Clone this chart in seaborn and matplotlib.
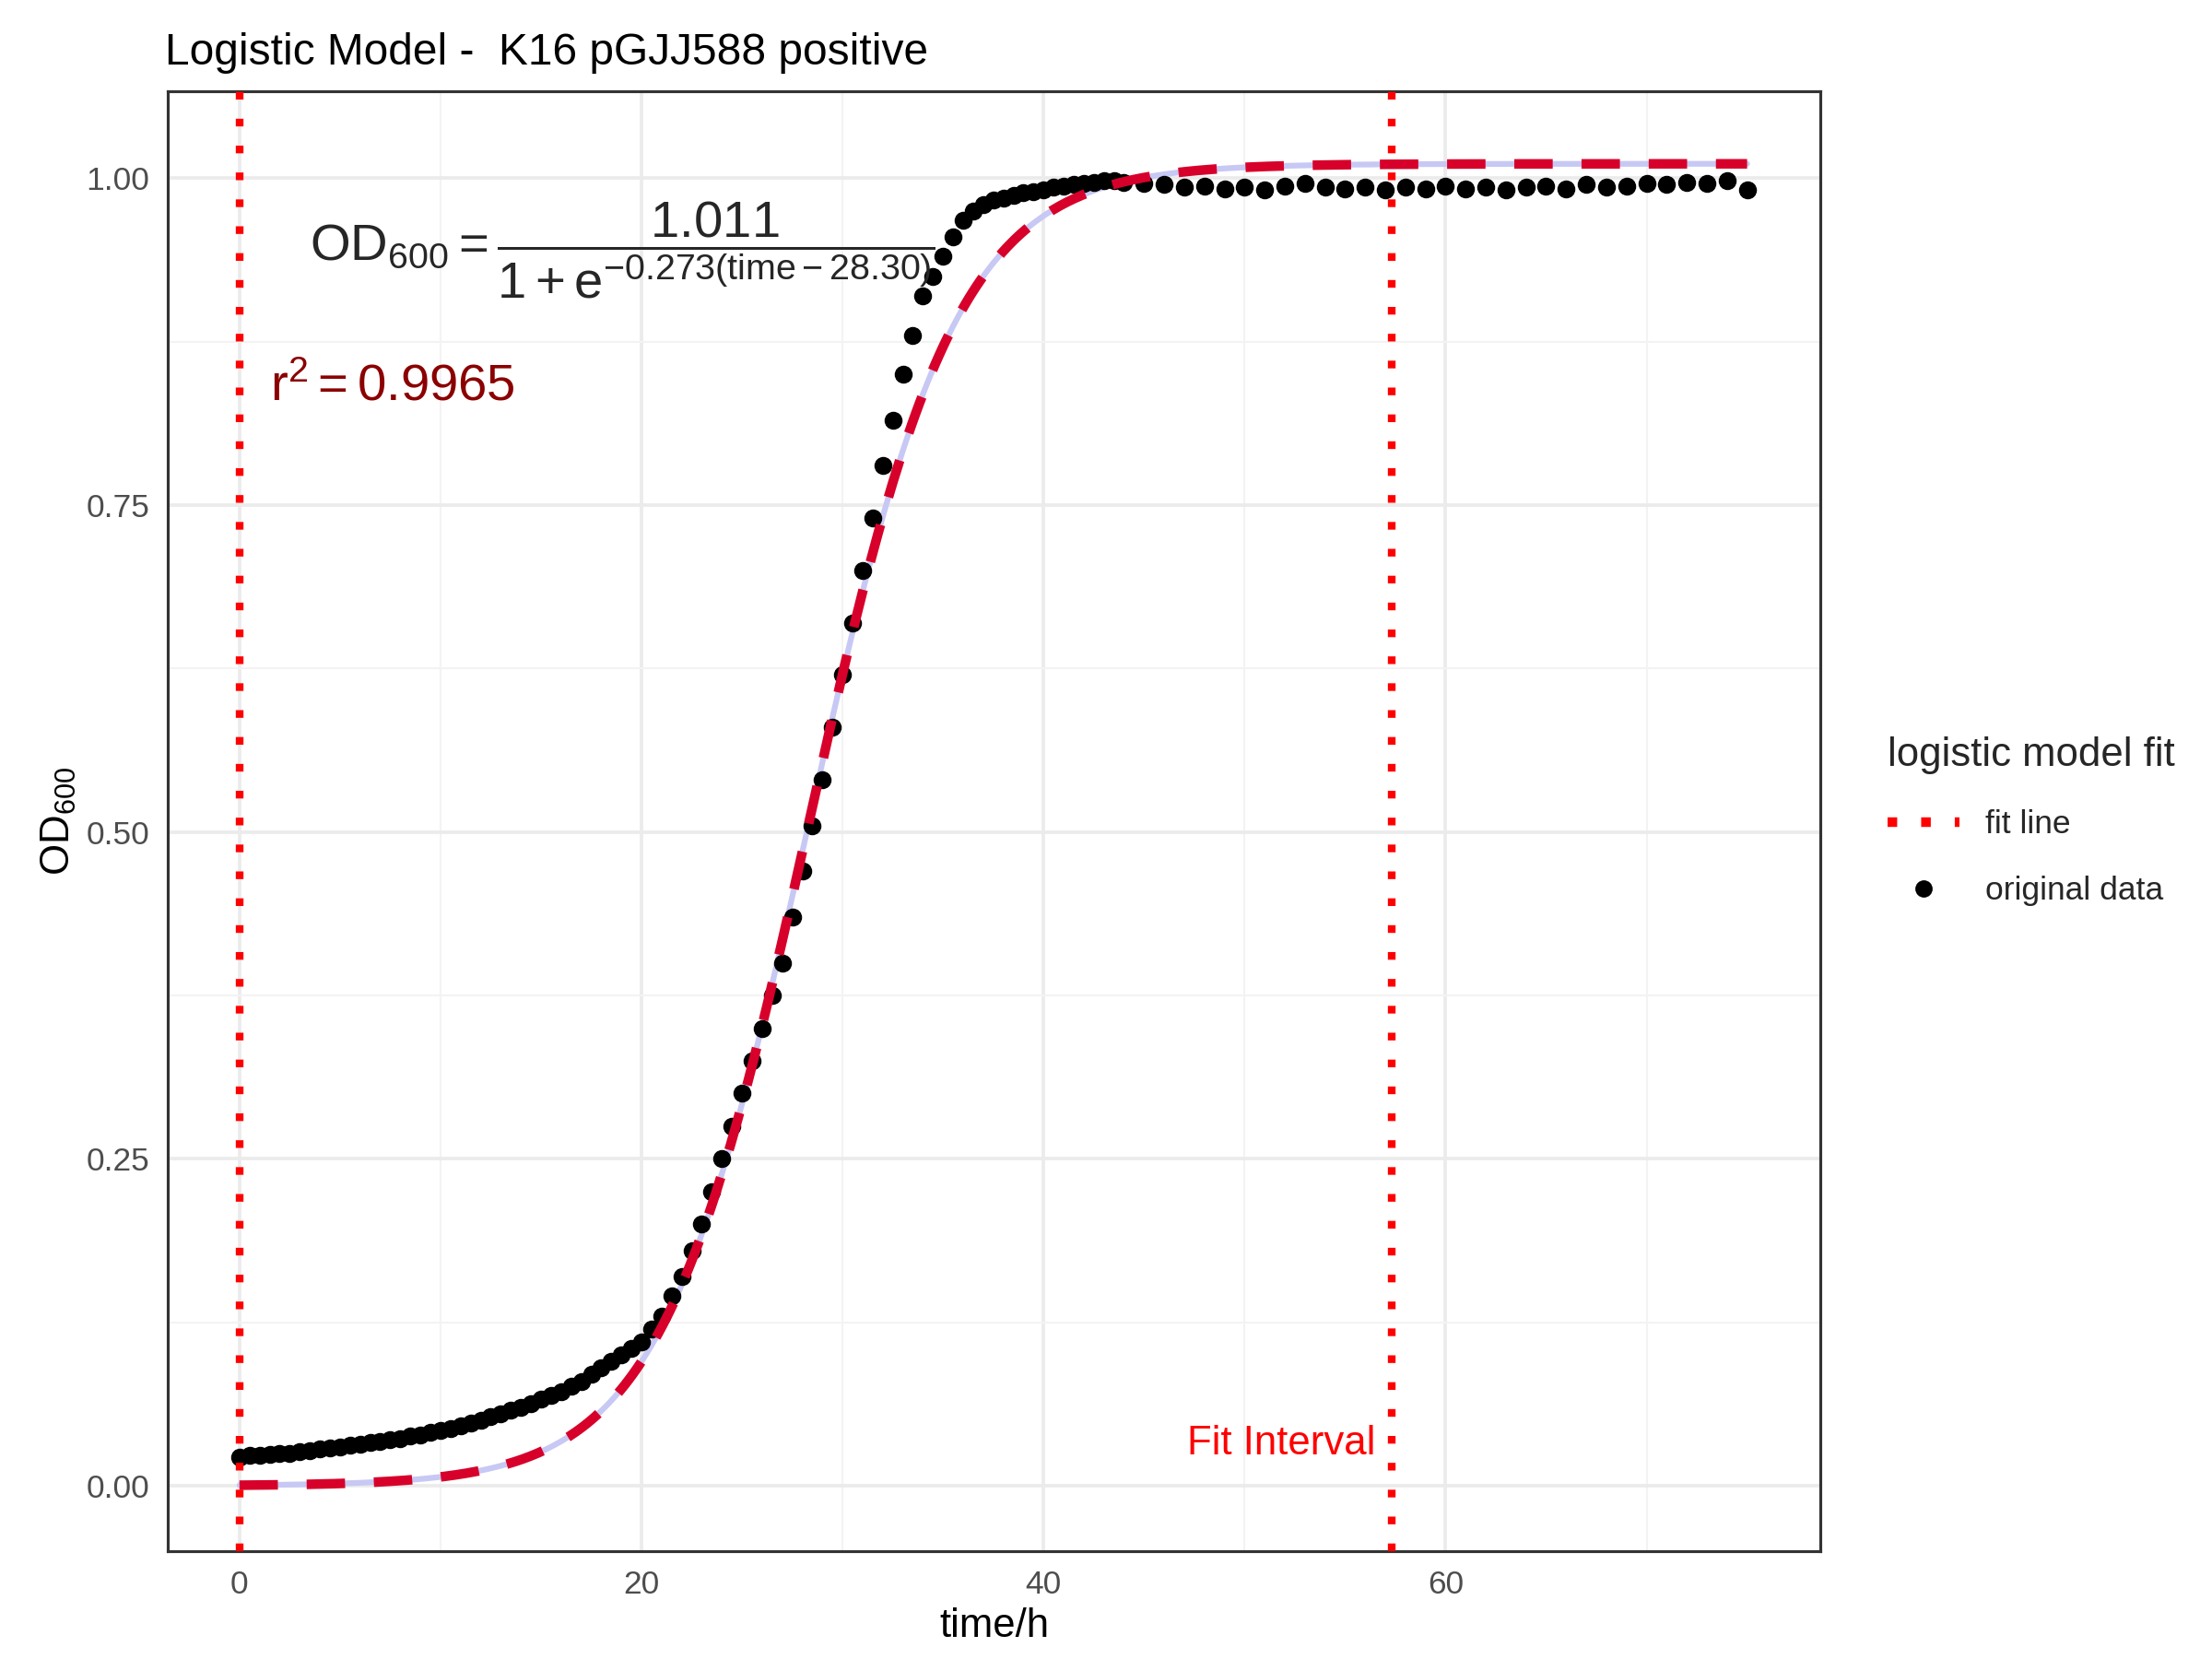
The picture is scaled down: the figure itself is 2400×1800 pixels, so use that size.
import numpy as np
import pandas as pd
import matplotlib.pyplot as plt
import seaborn as sns
from matplotlib.lines import Line2D

# observed OD600 (0-44 h every 0.5 h, then hourly to 75 h)
od_early = [0.022, 0.023, 0.023, 0.024, 0.025, 0.025, 0.026, 0.027, 0.028, 0.029,
            0.030, 0.031, 0.032, 0.033, 0.034, 0.035, 0.036, 0.038, 0.039, 0.041,
            0.042, 0.044, 0.046, 0.048, 0.050, 0.053, 0.055, 0.058, 0.060, 0.063,
            0.066, 0.069, 0.072, 0.076, 0.080, 0.085, 0.090, 0.095, 0.100, 0.105,
            0.110, 0.120, 0.130, 0.145, 0.160, 0.180, 0.200, 0.225, 0.250, 0.275,
            0.300, 0.325, 0.350, 0.375, 0.400, 0.435, 0.470, 0.505, 0.540, 0.580,
            0.620, 0.660, 0.700, 0.740, 0.780, 0.815, 0.850, 0.880, 0.910, 0.925,
            0.940, 0.955, 0.968, 0.975, 0.980, 0.983, 0.985, 0.987, 0.989, 0.990,
            0.991, 0.993, 0.994, 0.995, 0.996, 0.997, 0.998, 0.998, 0.997]
od_late = [0.996, 0.995, 0.993, 0.994, 0.992, 0.993, 0.991, 0.994, 0.996, 0.993,
           0.992, 0.993, 0.991, 0.993, 0.992, 0.994, 0.992, 0.993, 0.991, 0.993,
           0.994, 0.992, 0.995, 0.993, 0.994, 0.996, 0.995, 0.997, 0.996, 0.998, 0.991]
t_early = np.arange(len(od_early)) * 0.5
t_late = 45 + np.arange(len(od_late))

# logistic fit parameters
K, r, t0 = 1.011, 0.273, 28.30
fit_start, fit_end = 0.0, 57.3
r2 = 0.9965

data = pd.DataFrame({"time": np.concatenate([t_early, t_late]),
                     "od": od_early + od_late})
tf = np.linspace(0, 75, 400)
fit = pd.DataFrame({"time": tf, "od": K / (1 + np.exp(-r * (tf - t0)))})

sns.set_style("whitegrid")
plt.rcParams['font.family'] = ['Arial', 'Liberation Sans', 'DejaVu Sans']
plt.rcParams['mathtext.fontset'] = 'custom'
plt.rcParams['mathtext.rm'] = 'Liberation Sans'
plt.rcParams['mathtext.it'] = 'Liberation Sans'
fig = plt.figure(figsize=(16, 12), dpi=150)
ax = fig.add_axes([0.076, 0.065, 0.747, 0.88])

sns.lineplot(data=fit, x="time", y="od", ax=ax, color="#c8c8f5", linewidth=3, zorder=2)
sns.scatterplot(data=data, x="time", y="od", ax=ax, color="black", s=75,
                edgecolor="black", zorder=3)
sns.lineplot(data=fit, x="time", y="od", ax=ax, color="#d7002a", linewidth=5,
             linestyle=(0, (4, 3)), zorder=4)
for xv in (fit_start, fit_end):
    ax.axvline(xv, color="red", linestyle=(0, (1, 2.5)), linewidth=4, zorder=5)

ax.set_xlim(-3.55, 78.65)
ax.set_ylim(-0.05, 1.0665)
ax.set_xticks([0, 20, 40, 60])
ax.set_yticks([0, 0.25, 0.5, 0.75, 1.0])
ax.set_yticklabels(["0.00", "0.25", "0.50", "0.75", "1.00"])
ax.set_xticks([10, 30, 50, 70], minor=True)
ax.set_yticks([0.125, 0.375, 0.625, 0.875], minor=True)
ax.grid(which="major", color="#ebebeb", linewidth=1.8)
ax.grid(which="minor", color="#f3f3f3", linewidth=1)
for s in ax.spines.values():
    s.set_color("#333333")
    s.set_linewidth(1.5)
ax.tick_params(labelsize=17, colors="#4d4d4d", length=6, width=1.5, color="#333333")
ax.set_xlabel("time/h", fontsize=21, color="black")
ax.set_ylabel(r"OD$_{600}$", fontsize=21, color="black")
ax.set_title("Logistic Model -  K16 pGJJ588 positive", fontsize=23, loc="left",
             x=-0.002, pad=14, color="black")

ax.text(3.5, 0.945, r"$\mathrm{OD}_{600} = \dfrac{1.011}{1+\mathrm{e}^{-0.273(\mathrm{time}-28.30)}}$",
        fontsize=27, va="center")
ax.text(1.5, 0.84, r"$\mathrm{r}^2 = 0.9965$", fontsize=27, color="#8b0000", va="center")
ax.text(56.5, 0.032, "Fit Interval", fontsize=21, color="red", ha="right", va="center")

handles = [Line2D([], [], color="red", linestyle=(0, (1, 2.5)), linewidth=5),
           Line2D([], [], color="black", marker="o", linestyle="", markersize=8)]
fig.legend(handles, ["fit line", "original data"], title="logistic model fit",
           loc="center left", bbox_to_anchor=(0.84, 0.505), frameon=False,
           fontsize=17, title_fontsize=21, handlelength=2.2, labelspacing=1.1,
           alignment="left")

fig.savefig("out.png", dpi=150)
